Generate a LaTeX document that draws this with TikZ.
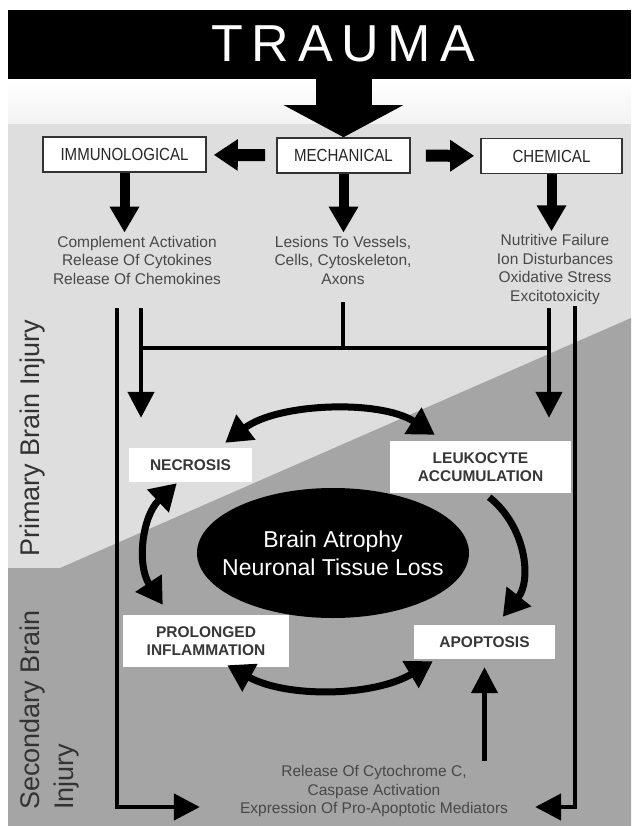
\documentclass[tikz,border=0pt]{standalone}
\usepackage{fontspec}
\setmainfont{Liberation Sans}
\newfontfamily\narrowsans[FakeStretch=0.86]{Liberation Sans}
\usetikzlibrary{arrows.meta,shapes.geometric}
\definecolor{panellight}{RGB}{222,222,222}
\definecolor{paneldark}{RGB}{165,165,165}
\definecolor{notegray}{RGB}{72,72,72}
\definecolor{boxtext}{RGB}{55,55,55}

\begin{document}
\begin{tikzpicture}[x=1pt,y=1pt,
  every node/.style={inner sep=0pt},
  headbox/.style={draw=black!80,line width=1.6pt,fill=white,minimum height=35pt,text=black!85,font=\narrowsans\fontsize{17.5}{18}\selectfont},
  stagebox/.style={fill=white,align=center,text=boxtext,font=\bfseries\fontsize{15.5}{18}\selectfont},
  notetext/.style={align=center,text=notegray,font=\fontsize{15.5}{18.5}\selectfont},
  sidelabel/.style={rotate=90,align=left,text=black!80,font=\fontsize{27}{34}\selectfont},
  wire/.style={line width=4.5pt},
  wirearrow/.style={line width=4.5pt,-{Triangle[length=26pt,width=26pt]}},
  fatdown/.style={line width=10pt,-{Triangle[length=26pt,width=28pt]}},
  fatside/.style={line width=12pt,-{Triangle[length=24pt,width=30pt]}},
  loopboth/.style={line width=7pt,{Triangle[length=26pt,width=30pt]}-{Triangle[length=26pt,width=30pt]}},
  loopone/.style={line width=7pt,-{Triangle[length=26pt,width=30pt]}}
]
% page and panels
\useasboundingbox (0,0) rectangle (631,-826);
\fill[white] (0,0) rectangle (631,-826);
\shade[top color=white,bottom color=black!5] (8,-79) rectangle (631,-124);
\fill[panellight] (8,-124) rectangle (631,-826);
\fill[paneldark] (8,-568) -- (60,-568) -- (631,-318) -- (631,-826) -- (8,-826) -- cycle;

% banner
\node[fill=black,minimum width=623pt,minimum height=69pt,anchor=north west] (banner) at (8,-10) {};
\node[text=white,font=\fontsize{52}{52}\selectfont\addfontfeature{LetterSpace=17}] (trauma) at (343,-43.5) {TRAUMA};

% kinds of injury
\node[headbox,minimum width=163pt] (immuno) at (124.5,-154.5) {IMMUNOLOGICAL};
\node[headbox,minimum width=133pt] (mech) at (343.5,-155.5) {MECHANICAL};
\node[headbox,minimum width=141pt] (chem) at (551.5,-156) {CHEMICAL};

\node[notetext] (immunotxt) at (137,-260) {Complement Activation\\Release Of Cytokines\\Release Of Chemokines};
\node[notetext] (mechtxt) at (343,-260) {Lesions To Vessels,\\Cells, Cytoskeleton,\\Axons};
\node[notetext] (chemtxt) at (555,-269.5) {Nutritive Failure\\Ion Disturbances\\Oxidative Stress\\Excitotoxicity};

% stages
\node[stagebox,minimum width=123pt,minimum height=34pt] (necrosis) at (190.5,-465) {NECROSIS};
\node[stagebox,minimum width=181pt,minimum height=52pt] (leuk) at (480.5,-467) {LEUKOCYTE\\ACCUMULATION};
\node[stagebox,minimum width=166pt,minimum height=52pt] (prolonged) at (206,-641) {PROLONGED\\INFLAMMATION};
\node[stagebox,minimum width=141pt,minimum height=34pt] (apop) at (484.5,-642) {APOPTOSIS};
\node[ellipse,fill=black,minimum width=272pt,minimum height=130pt] (atrophy) at (333,-553) {};
\node[text=white,align=center,font=\fontsize{23}{28}\selectfont] (atrophytxt) at (atrophy) {Brain Atrophy\\Neuronal Tissue Loss};

\node[notetext] (cytotxt) at (374,-791) {Release Of Cytochrome C,\\Caspase Activation\\Expression Of Pro-Apoptotic Mediators};

% side labels
\node[sidelabel,anchor=west] (primary) at (33,-557) {Primary Brain Injury};
\node[sidelabel,anchor=south west] (secondary) at (79,-810) {Secondary Brain\\Injury};

% junctions
\coordinate (imA) at (117,-308);
\coordinate (imB) at (141,-308);
\coordinate (meA) at (343,-302);
\coordinate (chA) at (549,-308);
\coordinate (chB) at (575,-306);
\coordinate (jl) at (141,-348);
\coordinate (jr) at (549,-348);

% arrows
\draw[line width=56pt,-{Triangle[length=32pt,width=118pt]}] (mech.north |- banner.south) -- (mech.north);
\draw[fatside,shorten <=11pt,shorten >=7pt] (mech) -- (immuno);
\draw[fatside,shorten <=15pt,shorten >=6pt] (mech) -- (chem);
\draw[fatdown,shorten >=3pt] (immuno.south) -- (immuno.south |- immunotxt.north);
\draw[fatdown,shorten >=3pt] (mech.south) -- (mech.south |- mechtxt.north);
\draw[fatdown,shorten >=3pt] (chem.south) -- (chem.south |- chemtxt.north);

\draw[wire] (meA) -- (meA |- jl);
\draw[wire] (jl) -- (jr);
\draw[wirearrow,shorten >=30pt] (imB) -- (imB |- necrosis.north);
\draw[wirearrow,shorten >=23pt] (chA) -- (chA |- leuk.north);
\draw[wirearrow] (imA) |- ([xshift=-40pt,yshift=-16pt]cytotxt.west);
\draw[wirearrow] (chB) |- ([xshift=27pt,yshift=-16pt]cytotxt.east);
\draw[wirearrow,shorten >=8pt] ([yshift=4pt]cytotxt.north -| apop.south) -- (apop.south);

\draw[loopboth] ([xshift=-27pt,yshift=5pt]necrosis.north east) to[bend left=35,looseness=0.8] ([xshift=45pt,yshift=6pt]leuk.north west);
\draw[loopboth] ([xshift=40pt,yshift=10pt]prolonged.north west) to[bend left=40] ([xshift=48pt,yshift=-1pt]necrosis.south west);
\draw[loopone] ([xshift=-82pt,yshift=-4pt]leuk.south east) to[bend left=45] ([xshift=89pt,yshift=8pt]apop.north west);
\draw[loopboth] ([xshift=-62pt,yshift=2pt]prolonged.south east) to[bend right=30,looseness=0.85] ([xshift=19pt,yshift=-2pt]apop.south west);
\end{tikzpicture}
\end{document}
